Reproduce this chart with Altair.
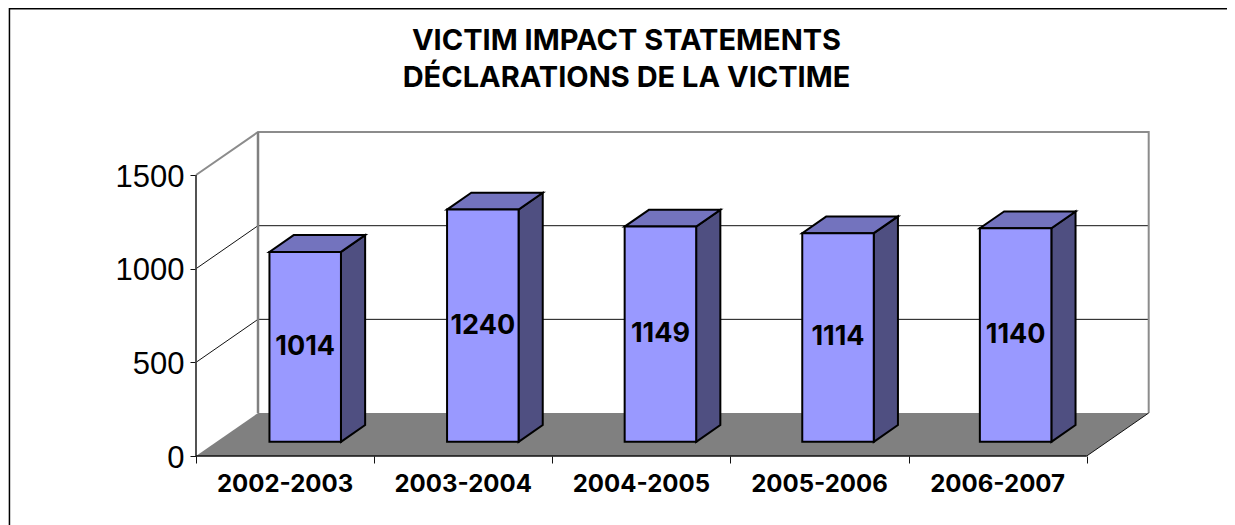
import altair as alt
import pandas as pd

CATEGORIES = ["2002-2003", "2003-2004", "2004-2005", "2005-2006", "2006-2007"]
VALUES = [1014, 1240, 1149, 1114, 1140]
Y_TICKS = [0, 500, 1000, 1500]
X_TICKS = [0, 1, 2, 3, 4, 5]
TITLE_LINES = ["VICTIM IMPACT STATEMENTS", "DÉCLARATIONS DE LA VICTIME"]

FONT = "Liberation Sans"
BOLD_FONT = "Inter"
W, H = 1219, 517
# pixel calibration of the reference (page coordinates)
X0, UX = 196.0, 178.14
Y0, UY = 456.0, 0.1873
# full-depth shift of the 3D box, in data units
DX, DY = 62 / UX, 43 / UY
# bar placement inside its category slot
BAR_LEFT, BAR_W, BAR_PITCH = 53 / UX, 71.5 / UX, 177.6 / UX
D_FRONT, D_BACK = 0.33, 0.72

x_scale = alt.Scale(domain=[(8 - X0) / UX, (8 + W - X0) / UX], range=[0, W], nice=False, zero=False)
y_scale = alt.Scale(domain=[(Y0 - 8 - H) / UY, (Y0 - 8) / UY], range=[H, 0], nice=False, zero=False)

x_axis = alt.Axis(
    values=X_TICKS, labels=False, domain=False, grid=False, ticks=True, tickSize=7,
    tickColor="#111111", tickWidth=1, orient="bottom", offset=-(8 + H - Y0), title=None)
y_axis = alt.Axis(
    values=Y_TICKS, format="d", domain=False, grid=False, tickSize=6, tickColor="#111111",
    tickWidth=1, labelFont=FONT, labelFontSize=31, labelColor="black", labelPadding=6,
    labelOffset=2, orient="left", offset=-(X0 - 8), title=None)


def X(f="x"):
    return alt.X(f"{f}:Q", scale=x_scale, axis=x_axis, title=None)


def Y(f="y"):
    return alt.Y(f"{f}:Q", scale=y_scale, axis=y_axis, title=None)


def px(i, d):
    return i + d * DX


def py(v, d):
    return v + d * DY


# ---- floor
floor = pd.DataFrame([
    {"y": py(0, 0), "x": px(0, 0), "x2": px(5, 0)},
    {"y": py(0, 1), "x": px(0, 1), "x2": px(5, 1)},
])
floor_l = alt.Chart(floor).mark_area(orient="horizontal", color="#808080").encode(
    y=Y(), x=X(), x2="x2:Q")

# ---- wall lines
lines = []
for v in Y_TICKS[1:3]:
    lines += [
        {"g": f"g{v}", "x": px(0, 0), "y": py(v, 0), "c": "#111111", "w": 1},
        {"g": f"g{v}", "x": px(0, 1), "y": py(v, 1), "c": "#111111", "w": 1},
        {"g": f"g{v}", "x": px(5, 1), "y": py(v, 1), "c": "#111111", "w": 1},
    ]
lines += [
    {"g": "top", "x": px(0, 0), "y": py(1500, 0), "c": "#8c8c8c", "w": 2},
    {"g": "top", "x": px(0, 1), "y": py(1500, 1), "c": "#8c8c8c", "w": 2},
    {"g": "top", "x": px(5, 1), "y": py(1500, 1), "c": "#8c8c8c", "w": 2},
    {"g": "top", "x": px(5, 1), "y": py(0, 1), "c": "#8c8c8c", "w": 2},
    {"g": "lw", "x": px(0, 1), "y": py(1500, 1), "c": "#808080", "w": 2.5},
    {"g": "lw", "x": px(0, 1), "y": py(0, 1), "c": "#808080", "w": 2.5},
    {"g": "re", "x": px(5, 0), "y": py(0, 0), "c": "#111111", "w": 1},
    {"g": "re", "x": px(5, 1), "y": py(0, 1), "c": "#111111", "w": 1},
    {"g": "ya", "x": 0, "y": 0, "c": "#404040", "w": 1.8},
    {"g": "ya", "x": 0, "y": 1500, "c": "#404040", "w": 1.8},
    {"g": "xa", "x": 0, "y": 0, "c": "#111111", "w": 1.5},
    {"g": "xa", "x": 5, "y": 0, "c": "#111111", "w": 1.5},
]
lines_df = pd.DataFrame(lines)
walls = [
    alt.Chart(d.assign(o=range(len(d)))).mark_line(
        color=d.c.iloc[0], strokeWidth=float(d.w.iloc[0])
    ).encode(x=X(), y=Y(), order="o:Q")
    for g, d in lines_df.groupby("g", sort=False)
]

# ---- bars
front, side, top, labels = [], [], [], []
for i, (c, v) in enumerate(zip(CATEGORIES, VALUES)):
    xl = i * BAR_PITCH + BAR_LEFT
    xr = xl + BAR_W
    front.append({"x": px(xl, D_FRONT), "x2": px(xr, D_FRONT), "y": py(0, D_FRONT), "y2": py(v, D_FRONT)})
    side += [
        {"c": c, "x": px(xr, D_FRONT), "y": py(0, D_FRONT), "y2": py(v, D_FRONT)},
        {"c": c, "x": px(xr, D_BACK), "y": py(0, D_BACK), "y2": py(v, D_BACK)},
    ]
    top += [
        {"c": c, "y": py(v, D_FRONT), "x": px(xl, D_FRONT), "x2": px(xr, D_FRONT)},
        {"c": c, "y": py(v, D_BACK), "x": px(xl, D_BACK), "x2": px(xr, D_BACK)},
    ]
    labels.append({"t": str(v), "x": px((xl + xr) / 2, D_FRONT), "y": py(v / 2, D_FRONT)})

BAR_STROKE = dict(stroke="black", strokeWidth=2, strokeJoin="miter")
side_l = alt.Chart(pd.DataFrame(side)).mark_area(color="#4F4F81", **BAR_STROKE).encode(
    x=X(), y=Y(), y2="y2:Q", detail="c:N")
top_l = alt.Chart(pd.DataFrame(top)).mark_area(orient="horizontal", color="#7373BE", **BAR_STROKE).encode(
    y=Y(), x=X(), x2="x2:Q", detail="c:N")
front_l = alt.Chart(pd.DataFrame(front)).mark_rect(color="#9999FF", **BAR_STROKE).encode(
    x=X(), x2="x2:Q", y=Y(), y2="y2:Q")
label_l = alt.Chart(pd.DataFrame(labels)).mark_text(
    font=BOLD_FONT, fontWeight="bold", fontSize=27, color="black", baseline="middle", dy=0
).encode(x=X(), y=Y(), text="t:N")

cat_df = pd.DataFrame({"t": CATEGORIES, "x": [i + 0.5 for i in range(5)], "y": [-155.0] * 5})
cat_l = alt.Chart(cat_df).mark_text(
    font=BOLD_FONT, fontWeight="bold", fontSize=24, color="black", baseline="middle"
).encode(x=X(), y=Y(), text="t:N")

title_df = pd.DataFrame({"t": TITLE_LINES, "x": [(626.5 - X0) / UX] * 2,
                         "y": [(Y0 - 41) / UY, (Y0 - 78) / UY]})
title_l = alt.Chart(title_df).mark_text(
    font=BOLD_FONT, fontWeight="bold", fontSize=29, color="black", baseline="middle"
).encode(x=X(), y=Y(), text="t:N")

# ---- chart frame (top and left edges only)
one = pd.DataFrame({"a": [1]})
fr_top_g = alt.Chart(one).mark_rule(color="#b0b0b0", strokeWidth=1).encode(
    x=alt.value(1), x2=alt.value(W), y=alt.value(1.5))
fr_top = alt.Chart(one).mark_rule(color="black", strokeWidth=1.5).encode(
    x=alt.value(1), x2=alt.value(W), y=alt.value(0.5))
fr_left_g = alt.Chart(one).mark_rule(color="#b0b0b0", strokeWidth=1).encode(
    x=alt.value(0.5), y=alt.value(0), y2=alt.value(H))
fr_left = alt.Chart(one).mark_rule(color="black", strokeWidth=1.2).encode(
    x=alt.value(1.6), y=alt.value(0), y2=alt.value(H))

chart = alt.layer(
    floor_l, *walls, side_l, top_l, front_l, label_l, cat_l, title_l,
    fr_top_g, fr_left_g, fr_top, fr_left
).properties(
    width=W, height=H, padding=0, autosize=alt.AutoSizeParams(type="none"), background="white"
).configure_view(stroke=None)

chart.save("out.html", embed_options={"renderer": "svg", "actions": False})
